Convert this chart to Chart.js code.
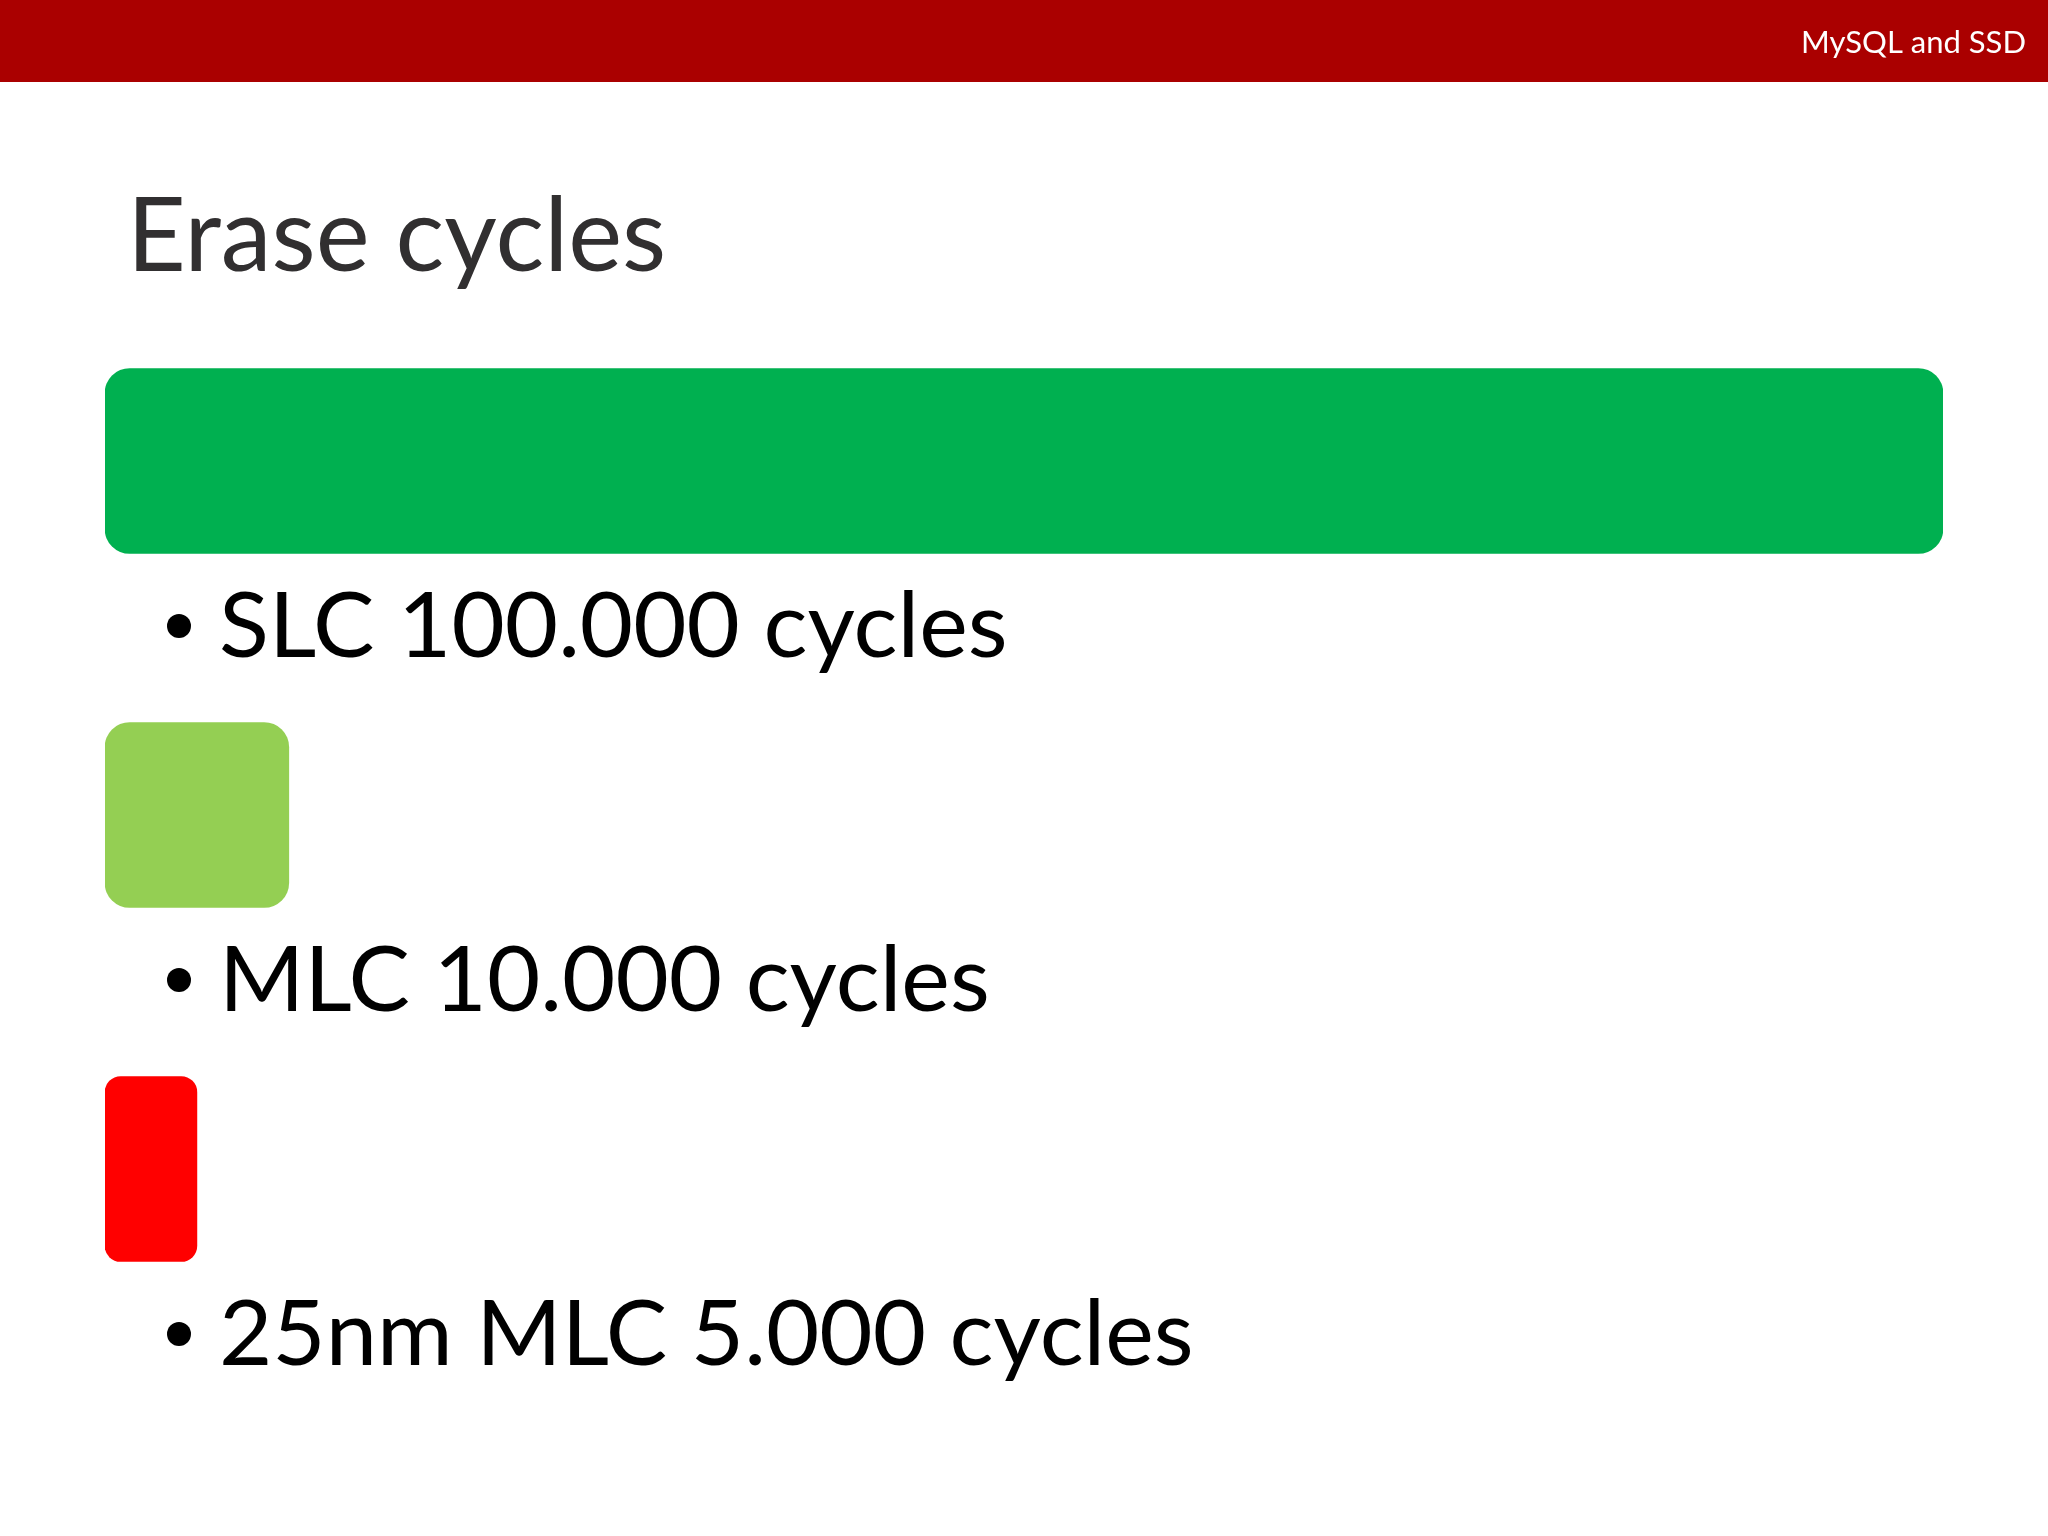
<!DOCTYPE html>
<html>
<head>
<meta charset="utf-8">
<title>Erase cycles</title>
<script src="https://cdn.jsdelivr.net/npm/chart.js@4.4.1/dist/chart.umd.min.js"></script>
<style>
  html, body { margin: 0; padding: 0; background: #fff; }
  #wrap { position: relative; width: 2048px; height: 1536px; }
</style>
</head>
<body>
<div id="wrap"><canvas id="graphic" width="2048" height="1536"></canvas></div>
<script>
// data
const categories = ["SLC", "MLC", "25nm MLC"];
const cycles = [100000, 10000, 5000];
const headerText = "MySQL and SSD";
const titleText = "Erase cycles";

(() => {
    const FONT = "Lato, 'Open Sans', sans-serif";

    // 100000 -> "100.000"
    function fmt(v) {
        return String(v).replace(/\B(?=(\d{3})+(?!\d))/g, ".");
    }

    const slidePlugin = {
        id: "slide",
        beforeDraw(chart) {
            const ctx = chart.ctx;
            ctx.save();
            ctx.fillStyle = "#ffffff";
            ctx.fillRect(0, 0, chart.width, chart.height);

            // red header band
            ctx.fillStyle = "#aa0000";
            ctx.fillRect(0, 0, chart.width, 82);
            ctx.fillStyle = "#ffffff";
            ctx.font = "31px " + FONT;
            ctx.textAlign = "right";
            ctx.textBaseline = "alphabetic";
            ctx.fillText(headerText, 2026, 53);

            // slide title
            ctx.fillStyle = "#312f30";
            ctx.font = "102px " + FONT;
            ctx.textAlign = "left";
            ctx.fillText(titleText, 127, 271);
            ctx.restore();
        },
        afterDatasetsDraw(chart) {
            const ctx = chart.ctx;
            const bars = chart.getDatasetMeta(0).data;
            ctx.save();
            ctx.fillStyle = "#000000";
            ctx.font = "92px " + FONT;
            ctx.textAlign = "left";
            ctx.textBaseline = "alphabetic";
            bars.forEach((bar, i) => {
                const base = bar.y + 196;
                // bullet
                ctx.beginPath();
                ctx.arc(179, base - 31, 12, 0, Math.PI * 2);
                ctx.fill();
                ctx.fillText(categories[i] + " " + fmt(cycles[i]) + " cycles", 219, base);
            });
            ctx.restore();
        }
    };

    const ctx = document.getElementById("graphic").getContext("2d");
    new Chart(ctx, {
        type: "bar",
        data: {
            labels: categories,
            datasets: [{
                data: cycles,
                backgroundColor: ["#00b050", "#94cf53", "#ff0000"],
                borderWidth: 0,
                borderSkipped: false,
                borderRadius: [25, 25, 16],
                barThickness: 185
            }]
        },
        options: {
            indexAxis: "y",
            responsive: false,
            animation: false,
            layout: {
                padding: { left: 105, right: 105, top: 284, bottom: 190 }
            },
            scales: {
                x: { display: false, min: 0, max: 100000 },
                y: { display: false }
            },
            plugins: {
                legend: { display: false },
                tooltip: { enabled: false }
            }
        },
        plugins: [slidePlugin]
    });
})();
</script>
</body>
</html>
